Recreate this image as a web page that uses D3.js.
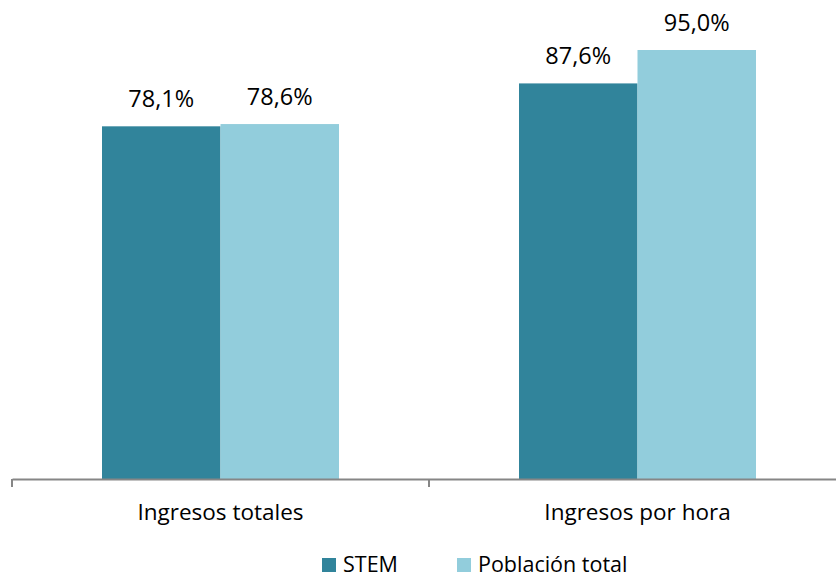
<!DOCTYPE html>
<html>
<head>
<meta charset="utf-8">
<script src="https://cdn.jsdelivr.net/npm/d3@7"></script>
<style>
  html, body { margin: 0; padding: 0; background: #fff; }
  svg { display: block; font-family: "Open Sans", sans-serif; }
</style>
</head>
<body>
<svg id="chart" width="836" height="577"></svg>
<script>
// Chart data
const categories = ["Ingresos totales", "Ingresos por hora"];
const seriesNames = ["STEM", "Población total"];
const stemValues = [78.1, 87.6];
const totalValues = [78.6, 95.0];
const seriesColors = ["#31849B", "#92CDDC"];

const svg = d3.select("#chart");
const baseY = 479;
const topY = 50 - (100 - 95) * 4.516;

const x0 = d3.scaleBand().domain(categories).range([12, 846]).padding(0);
const x1 = d3.scaleBand().domain(seriesNames).range([0, 237]).padding(0);
const y = d3.scaleLinear().domain([0, 100]).range([baseY, topY]);

const fmt = v => v.toFixed(1).replace(".", ",") + "%";

const rows = categories.map((c, i) => ({
  category: c,
  values: [
    { series: seriesNames[0], value: stemValues[i] },
    { series: seriesNames[1], value: totalValues[i] }
  ]
}));

const groups = svg.selectAll("g.group").data(rows).join("g")
  .attr("class", "group")
  .attr("transform", d => `translate(${x0(d.category) + (x0.bandwidth() - 237) / 2},0)`);

groups.selectAll("rect").data(d => d.values).join("rect")
  .attr("x", d => x1(d.series))
  .attr("width", x1.bandwidth())
  .attr("y", d => y(d.value))
  .attr("height", d => baseY - y(d.value))
  .attr("fill", (d, i) => seriesColors[i]);

groups.selectAll("text.val").data(d => d.values).join("text")
  .attr("class", "val")
  .attr("x", d => x1(d.series) + x1.bandwidth() / 2)
  .attr("y", d => y(d.value) - 19)
  .attr("text-anchor", "middle")
  .attr("font-size", 23.5)
  .attr("fill", "#000")
  .text(d => fmt(d.value));

// Category axis
const axis = svg.append("g").attr("transform", `translate(0,${baseY})`)
  .call(d3.axisBottom(x0).tickSize(0).tickSizeOuter(0));
axis.select(".domain").attr("stroke", "#868686").attr("stroke-width", 2);
axis.selectAll(".tick text")
  .attr("y", 41).attr("dy", 0)
  .attr("font-size", 22.5).attr("fill", "#000")
  .attr("font-family", "'Open Sans', sans-serif");

// Tick marks at category boundaries
const boundaries = [x0.range()[0], x0(categories[1])];
svg.selectAll("line.sep").data(boundaries).join("line")
  .attr("class", "sep")
  .attr("x1", d => d).attr("x2", d => d)
  .attr("y1", baseY).attr("y2", baseY + 8)
  .attr("stroke", "#868686").attr("stroke-width", 2);

// Legend
const legendX = [322, 457];
const legend = svg.selectAll("g.legend").data(seriesNames).join("g")
  .attr("class", "legend")
  .attr("transform", (d, i) => `translate(${legendX[i]},558)`);
legend.append("rect").attr("width", 14).attr("height", 14)
  .attr("fill", (d, i) => seriesColors[i]);
legend.append("text").attr("x", 21).attr("y", 14)
  .attr("font-size", 21.5).attr("fill", "#000").text(d => d);
</script>
</body>
</html>
